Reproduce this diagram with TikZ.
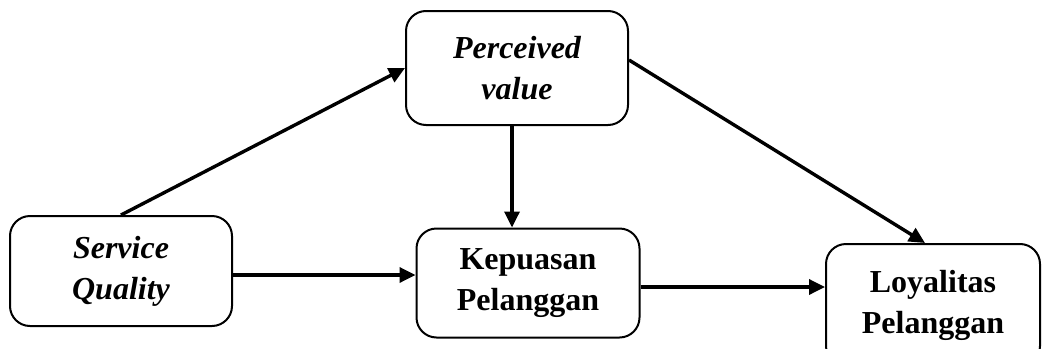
\documentclass[tikz,border=0pt]{standalone}
\usepackage{fontspec}
\setmainfont{Liberation Serif}
\usepackage{tikz}
\usetikzlibrary{arrows.meta, positioning, calc}

\begin{document}
\begin{tikzpicture}[x=0.5pt,y=-0.5pt,
                    box node/.style={draw,rounded corners=10pt,line width=1pt,align=center,
                      font=\fontsize{16}{20.5}\selectfont\bfseries,inner sep=0pt},
                    link/.style={line width=1.7pt,-{Triangle[length=8pt,width=7.5pt]}}]

  \useasboundingbox (0,0) rectangle (1042,348);
  \clip (0,0) rectangle (1042,348);

  \node[box node,minimum width=111pt,minimum height=55pt] (sq) at (121,271) {\itshape Service\\\itshape Quality};
  \node[box node,minimum width=111pt,minimum height=57pt] (pv) at (517,68) {\itshape Perceived\\\itshape value};
  \node[box node,minimum width=111.5pt,minimum height=54.5pt] (kp) at (528,283) {Kepuasan\\Pelanggan};
  \node[box node,minimum width=107pt,minimum height=61pt] (lp) at (933,305) {Loyalitas\\Pelanggan};

  \draw[link] (sq.north) -- (pv.west);
  \draw[link] ([yshift=-2pt]sq.east) -- ([yshift=-2pt]sq.east -| kp.west);
  \draw[link] ([xshift=-2.5pt]pv.south) -- ([xshift=-2.5pt]pv.south |- kp.north);
  \draw[link] ([yshift=4pt]pv.east) -- ([xshift=-4pt]lp.north);
  \draw[link] ([yshift=-2pt]kp.east) -- ([yshift=-2pt]kp.east -| lp.west);

\end{tikzpicture}
\end{document}
